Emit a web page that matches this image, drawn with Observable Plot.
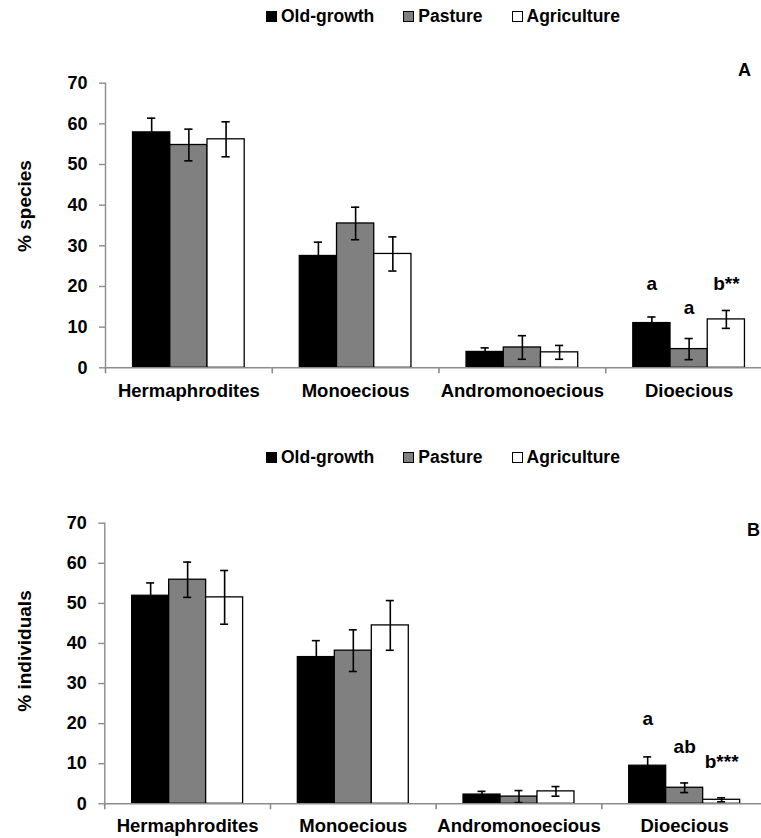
<!DOCTYPE html>
<html><head><meta charset="utf-8">
<script src="https://cdn.jsdelivr.net/npm/d3@7"></script>
<script src="https://cdn.jsdelivr.net/npm/@observablehq/plot@0.6"></script>
<style>
html,body{margin:0;padding:0;overflow:hidden;background:#fff;font-family:"Liberation Sans",Arial,sans-serif;color:#000;}
.panel{position:relative;}
.legend{position:absolute;display:flex;align-items:center;font-weight:bold;font-size:17.5px;white-space:nowrap;line-height:1;}
.item{display:flex;align-items:center;margin-right:29px;}
.sw{width:9px;height:9px;border:1px solid #000;margin-right:4px;}
.ylab{position:absolute;transform:translate(-50%,-50%) rotate(-90deg);font-weight:bold;font-size:19px;white-space:nowrap;line-height:1;}
.plab{position:absolute;font-weight:bold;font-size:18px;line-height:1;}
</style></head><body><div id="root"></div>
<script>
const categories = ["Hermaphrodites", "Monoecious", "Andromonoecious", "Dioecious"];
const series = ["Old-growth", "Pasture", "Agriculture"];
const colors = ["#000000", "#808080", "#ffffff"];
const yTicks = [0, 10, 20, 30, 40, 50, 60, 70];

// Panel A: % species (mean, SE)
const speciesOld = [57.9, 27.5, 3.9, 11.0];
const speciesPasture = [54.8, 35.5, 5.0, 4.6];
const speciesAgri = [56.2, 28.0, 3.8, 11.9];
const speciesErrOld = [3.5, 3.4, 1.0, 1.5];
const speciesErrPasture = [3.9, 4.0, 2.9, 2.6];
const speciesErrAgri = [4.3, 4.2, 1.7, 2.2];
const speciesLetters = ["a", "a", "b**"];
const speciesLetterY = [20.7, 14.8, 20.7];

// Panel B: % individuals (mean, SE)
const indivOld = [51.9, 36.6, 2.3, 9.5];
const indivPasture = [55.9, 38.2, 1.8, 4.0];
const indivAgri = [51.5, 44.5, 3.1, 1.0];
const indivErrOld = [3.2, 4.1, 0.8, 2.2];
const indivErrPasture = [4.4, 5.2, 1.5, 1.2];
const indivErrAgri = [6.7, 6.2, 1.2, 0.5];
const indivLetters = ["a", "ab", "b***"];
const indivLetterY = [21.1, 14.3, 10.5];

const letterCategory = "Dioecious";
const pad = 0.74;
const axisGray = "#8c8c8c";

function makeRows(vals, errs) {
  const rows = [];
  categories.forEach((c, i) => series.forEach((s, j) =>
    rows.push({category: c, series: s, value: vals[j][i], err: errs[j][i]})));
  return rows;
}
function makeLetters(labels, ys) {
  return series.map((s, j) => ({category: letterCategory, series: s, label: labels[j], y: ys[j]}));
}
function legend(top) {
  const div = document.createElement("div");
  div.className = "legend";
  div.style.left = "266px";
  div.style.top = top + "px";
  series.forEach((s, j) => {
    const it = document.createElement("div");
    it.className = "item";
    const sw = document.createElement("span");
    sw.className = "sw";
    sw.style.background = colors[j];
    it.appendChild(sw);
    it.appendChild(document.createTextNode(s));
    div.appendChild(it);
  });
  return div;
}

function chart({rows, letters, width, height, marginLeft, marginTop, marginBottom, labelPad}) {
  const step = (width - marginLeft) / categories.length;
  const band = step / (series.length + 2 * pad);
  const tickDepth = 6 * 70 / (height - marginTop - marginBottom);
  return Plot.plot({
    width, height, marginLeft, marginRight: 0, marginTop, marginBottom,
    style: {maxWidth: "none", fontFamily: "'Liberation Sans', Arial, sans-serif", fontWeight: "bold", fontSize: "18px", color: "#000", background: "transparent", overflow: "visible"},
    fx: {domain: categories, padding: 0, round: false, label: null},
    x: {domain: series, paddingInner: 0, paddingOuter: pad, round: false, axis: null},
    y: {domain: [0, 70], label: null},
    color: {domain: series, range: colors},
    marks: [
      Plot.frame({anchor: "left", facetAnchor: "left", stroke: axisGray, strokeWidth: 1.4}),
      Plot.axisY({ticks: yTicks, tickSize: 6, tickPadding: 12, stroke: axisGray, strokeWidth: 1.4, fill: "#000", label: null, fontSize: 18}),
      Plot.barY(rows, {fx: "category", x: "series", y: "value", fill: "series", stroke: "#000", strokeWidth: 1.3}),
      Plot.ruleX(rows, {fx: "category", x: "series", y1: d => d.value - d.err, y2: d => d.value + d.err, stroke: "#000", strokeWidth: 1.6}),
      Plot.tickY(rows, {fx: "category", x: "series", y: d => d.value - d.err, insetLeft: 14.5, insetRight: 14.5, stroke: "#000", strokeWidth: 1.6}),
      Plot.tickY(rows, {fx: "category", x: "series", y: d => d.value + d.err, insetLeft: 14.5, insetRight: 14.5, stroke: "#000", strokeWidth: 1.6}),
      Plot.text(letters, {fx: "category", x: "series", y: "y", text: "label", fontSize: 19, fontWeight: "bold", fill: "#000"}),
      Plot.axisFx({anchor: "bottom", tickSize: 0, tickPadding: labelPad, label: null, fontSize: 18.5, fill: "#000", lineAnchor: "top"}),
      Plot.tickY(categories, {fx: d => d, y: () => 0, stroke: axisGray, strokeWidth: 1.6}),
      Plot.ruleX(categories, {fx: d => d, x: () => series[0], y1: () => 0, y2: () => -tickDepth, dx: -(pad + 0.5) * band, stroke: axisGray, strokeWidth: 1.6})
    ]
  });
}

const root = document.getElementById("root");
const pA = document.createElement("div");
pA.className = "panel";
pA.style.height = "440px";
pA.appendChild(chart({
  rows: makeRows([speciesOld, speciesPasture, speciesAgri], [speciesErrOld, speciesErrPasture, speciesErrAgri]),
  letters: makeLetters(speciesLetters, speciesLetterY),
  width: 772, height: 440, marginLeft: 105, marginTop: 82.7, marginBottom: 72.7, labelPad: 16
}));
pA.appendChild(legend(8));
const yA = document.createElement("div"); yA.className = "ylab"; yA.textContent = "% species";
yA.style.left = "24px"; yA.style.top = "206px"; pA.appendChild(yA);
const lA = document.createElement("div"); lA.className = "plab"; lA.textContent = "A";
lA.style.left = "738px"; lA.style.top = "61px"; pA.appendChild(lA);
root.appendChild(pA);

const pB = document.createElement("div");
pB.className = "panel";
pB.style.height = "398px";
pB.appendChild(chart({
  rows: makeRows([indivOld, indivPasture, indivAgri], [indivErrOld, indivErrPasture, indivErrAgri]),
  letters: makeLetters(indivLetters, indivLetterY),
  width: 767, height: 398, marginLeft: 104.3, marginTop: 82.7, marginBottom: 34.7, labelPad: 15.5
}));
pB.appendChild(legend(9));
const yB = document.createElement("div"); yB.className = "ylab"; yB.textContent = "% individuals";
yB.style.left = "24px"; yB.style.top = "211px"; pB.appendChild(yB);
const lB = document.createElement("div"); lB.className = "plab"; lB.textContent = "B";
lB.style.left = "747px"; lB.style.top = "81px"; pB.appendChild(lB);
root.appendChild(pB);
</script>
</body></html>
